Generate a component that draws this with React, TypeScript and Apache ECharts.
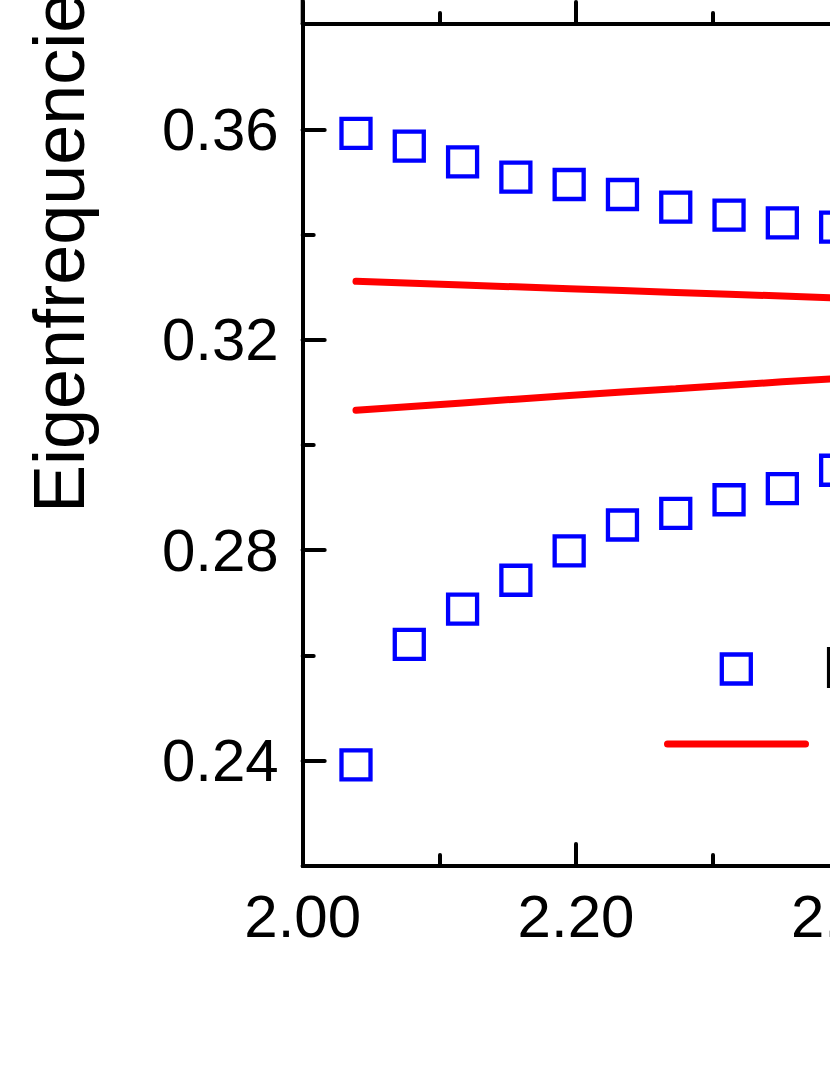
import React, { useEffect, useRef } from "react";
import * as echarts from "echarts";

const FONT = "'Liberation Sans', Arial, Helvetica, sans-serif";

// Measured data (x = parameter, y = eigenfrequency)
const xExp = [2.039, 2.078, 2.117, 2.156, 2.195, 2.234, 2.273, 2.312, 2.351, 2.39];
const upperExp = [0.3592, 0.3568, 0.3538, 0.3509, 0.3495, 0.3476, 0.3452, 0.3437, 0.3422, 0.3414];
const lowerExp = [0.2392, 0.2621, 0.2688, 0.2743, 0.2799, 0.2848, 0.287, 0.2896, 0.2917, 0.2952];

const xTheory = [2.039, 2.117, 2.195, 2.273, 2.351, 2.43];
const upperTheory = [0.3311, 0.3304, 0.3297, 0.329, 0.3283, 0.3276];
const lowerTheory = [0.3066, 0.308, 0.3094, 0.3107, 0.312, 0.3132];

const yMajorTicks = [0.24, 0.28, 0.32, 0.36];
const legendNames = ["Experiment", "Theory"];
const yTitle = "Eigenfrequencies";

export default function App() {
  const ref = useRef<HTMLDivElement>(null);

  useEffect(() => {
    document.body.style.margin = "0";
    document.body.style.overflow = "hidden";
    const chart = echarts.init(ref.current!, null, { renderer: "svg" });

    const X_MIN = 2.0;
    const X_MAX = 2.6;
    const pxPerUnit = 1366.5;
    const gridLeft = 302.7;
    const gridTop = 24;
    const gridH = 842;
    const gridW = (X_MAX - X_MIN) * pxPerUnit;

    const axisLine = { show: true, onZero: false, lineStyle: { color: "#000", width: 4 } };
    const tickStyle = { color: "#000", width: 4, cap: "round" };

    const expStyle = {
      color: "rgba(0,0,0,0)",
      borderColor: "#0000ff",
      borderWidth: 4.3,
      opacity: 1,
    };
    const lineStyle = { color: "#ff0000", width: 7, cap: "round" };

    chart.setOption({
      animation: false,
      backgroundColor: "#fff",
      grid: { left: gridLeft, top: gridTop, width: gridW, height: gridH },
      xAxis: [
        {
          type: "value",
          position: "bottom",
          min: X_MIN,
          max: X_MAX,
          interval: 0.2,
          axisLine,
          axisTick: { show: true, inside: true, length: 22, lineStyle: tickStyle },
          minorTick: { show: true, splitNumber: 2, length: 11, lineStyle: tickStyle },
          axisLabel: {
            formatter: (v: number) => v.toFixed(2),
            fontSize: 60,
            fontFamily: FONT,
            color: "#000",
            margin: 20,
          },
          splitLine: { show: false },
          minorSplitLine: { show: false },
        },
        {
          type: "value",
          position: "top",
          min: X_MIN,
          max: X_MAX,
          interval: 0.2,
          axisLine,
          axisTick: { show: true, inside: false, length: 22, lineStyle: tickStyle },
          minorTick: { show: true, splitNumber: 2, length: 11, lineStyle: tickStyle },
          axisLabel: { show: false },
          splitLine: { show: false },
        },
      ],
      yAxis: [
        {
          type: "value",
          position: "left",
          min: 0.22,
          max: 0.38,
          interval: 0.02,
          axisLine,
          axisTick: { show: true, inside: true, length: 11, lineStyle: tickStyle },
          axisLabel: {
            formatter: (v: number) =>
              Math.round(v * 100) % 4 === 0 ? v.toFixed(2) : "",
            fontSize: 60,
            fontFamily: FONT,
            color: "#000",
            margin: 24,
          },
          splitLine: { show: false },
        },
        {
          type: "value",
          position: "left",
          min: 0.22,
          max: 0.38,
          interval: 0.02,
          axisLine: { show: false },
          axisTick: {
            show: true,
            inside: true,
            length: 22,
            customValues: yMajorTicks,
            lineStyle: tickStyle,
          },
          axisLabel: { show: false },
          splitLine: { show: false },
        },
      ],
      series: [
        {
          name: legendNames[0],
          type: "scatter",
          symbol: "rect",
          symbolSize: 29,
          itemStyle: expStyle,
          data: xExp.map((x, i) => [x, upperExp[i]]),
        },
        {
          name: legendNames[0],
          type: "scatter",
          symbol: "rect",
          symbolSize: 29,
          itemStyle: expStyle,
          data: xExp.map((x, i) => [x, lowerExp[i]]),
        },
        {
          name: legendNames[1],
          type: "line",
          smooth: true,
          showSymbol: false,
          lineStyle,
          data: xTheory.map((x, i) => [x, upperTheory[i]]),
        },
        {
          name: legendNames[1],
          type: "line",
          smooth: true,
          showSymbol: false,
          lineStyle,
          data: xTheory.map((x, i) => [x, lowerTheory[i]]),
        },
      ],
      graphic: [
        {
          type: "line",
          shape: { x1: gridLeft, y1: -5, x2: gridLeft, y2: gridTop },
          style: { stroke: "#000", lineWidth: 4 },
        },
        {
          type: "text",
          x: 59,
          y: 513,
          rotation: Math.PI / 2,
          style: {
            text: yTitle,
            fontSize: 72,
            fontFamily: FONT,
            fill: "#000",
            align: "left",
            verticalAlign: "middle",
          },
        },
        {
          type: "rect",
          shape: { x: 736.3 - 14.5, y: 669 - 14.5, width: 29, height: 29 },
          style: { fill: "rgba(0,0,0,0)", stroke: "#0000ff", lineWidth: 4.3 },
        },
        {
          type: "text",
          x: 822,
          y: 667.5,
          style: {
            text: legendNames[0],
            fontSize: 60,
            fontFamily: FONT,
            fill: "#000",
            align: "left",
            verticalAlign: "middle",
          },
        },
        {
          type: "line",
          shape: { x1: 667.5, y1: 744, x2: 805.5, y2: 744 },
          style: { stroke: "#ff0000", lineWidth: 7, lineCap: "round" },
        },
        {
          type: "text",
          x: 833,
          y: 744,
          style: {
            text: legendNames[1],
            fontSize: 60,
            fontFamily: FONT,
            fill: "#000",
            align: "left",
            verticalAlign: "middle",
          },
        },
      ],
    });

    return () => chart.dispose();
  }, []);

  return (
    <div
      style={{
        position: "fixed",
        left: 0,
        top: 0,
        width: 830,
        height: 1075,
        overflow: "hidden",
        background: "#fff",
      }}
    >
      <div ref={ref} style={{ width: 1200, height: 1075 }} />
    </div>
  );
}
